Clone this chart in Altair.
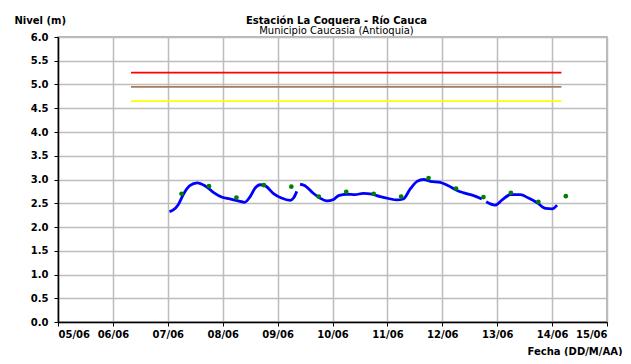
import altair as alt
import pandas as pd

# Blue level series (day of June, level m), three segments with gaps
seg1_day = [7.03, 7.10, 7.19, 7.28, 7.40, 7.535, 7.675, 7.83, 7.98, 8.13, 8.28, 8.40,
            8.50, 8.59, 8.68, 8.77, 8.92, 9.07, 9.23, 9.29, 9.35]
seg1_val = [2.32, 2.36, 2.47, 2.68, 2.87, 2.93, 2.87, 2.73, 2.63, 2.59, 2.55, 2.52,
            2.64, 2.82, 2.89, 2.87, 2.71, 2.61, 2.56, 2.61, 2.75]
seg2_day = [9.41, 9.50, 9.65, 9.77, 9.89, 10.02, 10.11, 10.26, 10.41, 10.56, 10.72, 10.87,
            11.02, 11.17, 11.29, 11.41, 11.54, 11.66, 11.78, 11.96, 12.11, 12.27, 12.39,
            12.57, 12.72]
seg2_val = [2.90, 2.87, 2.71, 2.61, 2.55, 2.58, 2.66, 2.69, 2.68, 2.71, 2.69, 2.64,
            2.60, 2.57, 2.59, 2.79, 2.96, 3.00, 2.96, 2.94, 2.87, 2.77, 2.72,
            2.66, 2.59]
seg3_day = [12.80, 12.96, 13.09, 13.24, 13.42, 13.57, 13.73, 13.88, 14.00, 14.09]
seg3_val = [2.53, 2.46, 2.57, 2.68, 2.68, 2.61, 2.51, 2.39, 2.38, 2.46]

# Green observation points
obs_day = [7.25, 7.75, 8.25, 8.75, 9.25, 9.75, 10.25, 10.75, 11.25, 11.75,
           12.25, 12.75, 13.25, 13.75, 14.25]
obs_val = [2.70, 2.86, 2.62, 2.88, 2.85, 2.64, 2.74, 2.70, 2.64, 3.03,
           2.81, 2.63, 2.72, 2.53, 2.65]

# Threshold levels
thr_name = ["roja", "naranja", "amarilla"]
thr_val = [5.25, 4.95, 4.65]
thr_color = ["#ff0000", "#a67c5a", "#ffff00"]
thr_start = 6.33
thr_end = 14.17

x_ticks = list(range(5, 16))
y_ticks = [0.0, 0.5, 1.0, 1.5, 2.0, 2.5, 3.0, 3.5, 4.0, 4.5, 5.0, 5.5, 6.0]

line_df = pd.concat([
    pd.DataFrame({"dia": seg1_day, "nivel": seg1_val, "seg": 1}),
    pd.DataFrame({"dia": seg2_day, "nivel": seg2_val, "seg": 2}),
    pd.DataFrame({"dia": seg3_day, "nivel": seg3_val, "seg": 3}),
])
obs_df = pd.DataFrame({"dia": obs_day, "nivel": obs_val})
thr_df = pd.DataFrame({"nombre": thr_name, "nivel": thr_val, "color": thr_color,
                       "ini": thr_start, "fin": thr_end})

xscale = alt.Scale(domain=[5, 15], nice=False, zero=False)
yscale = alt.Scale(domain=[0, 6], nice=False)

xaxis = alt.Axis(
    values=x_ticks, labelOverlap=False,
    labelExpr="(datum.value < 10 ? '0' : '') + datum.value + '/06'",
    title="Fecha (DD/M/AA)", titleAngle=0, titleAlign="right", titleBaseline="alphabetic",
    titleX=564, titleY=32, titleFontSize=10, titleFontWeight="bold",
    labelFontSize=10, labelFontWeight="bold", labelPadding=3,
    tickSize=4, tickColor="black", domainColor="black", domainWidth=1.5,
    gridColor="#bdbdbd", gridWidth=1.5, labelColor="black", titleColor="black",
)
yaxis = alt.Axis(
    values=y_ticks, format=".1f", labelOverlap=False, tickCount=13,
    title="Nivel (m)", titleAngle=0, titleAlign="left", titleBaseline="alphabetic",
    titleX=-44, titleY=-14, titleFontSize=10, titleFontWeight="bold",
    labelFontSize=10, labelFontWeight="bold", labelPadding=6,
    tickSize=4, tickColor="black", domainColor="black", domainWidth=1.5,
    gridColor="#bdbdbd", gridWidth=1.5, labelColor="black", titleColor="black",
)

thr = alt.Chart(thr_df).mark_rule(strokeWidth=1.8).encode(
    x=alt.X("ini:Q", scale=xscale, axis=xaxis),
    x2="fin:Q",
    y=alt.Y("nivel:Q", scale=yscale, axis=yaxis),
    color=alt.Color("color:N", scale=None, legend=None),
)

line = alt.Chart(line_df).mark_line(color="#0000ff", strokeWidth=2.8,
                                    interpolate="monotone").encode(
    x=alt.X("dia:Q", scale=xscale, axis=xaxis),
    y=alt.Y("nivel:Q", scale=yscale, axis=yaxis),
    detail="seg:N",
)

pts = alt.Chart(obs_df).mark_circle(color="#008000", size=22, opacity=1).encode(
    x=alt.X("dia:Q", scale=xscale, axis=xaxis),
    y=alt.Y("nivel:Q", scale=yscale, axis=yaxis),
)

chart = alt.layer(thr, line, pts).properties(
    width=549, height=285,
    title=alt.TitleParams(
        text="Estación La Coquera - Río Cauca",
        subtitle="Municipio Caucasia (Antioquia)",
        fontSize=10, fontWeight="bold", subtitleFontSize=10,
        subtitleColor="black", color="black", anchor="middle",
        offset=-21, subtitlePadding=0, dx=4,
    ),
    autosize=alt.AutoSizeParams(type="none"),
    padding={"left": 50, "top": 29, "right": 16, "bottom": 34},
).configure(
    font="DejaVu Sans",
).configure_view(
    stroke="#a0a0a0", strokeWidth=1.5,
)

chart.save("out.html", embed_options={"renderer": "svg", "actions": False})
